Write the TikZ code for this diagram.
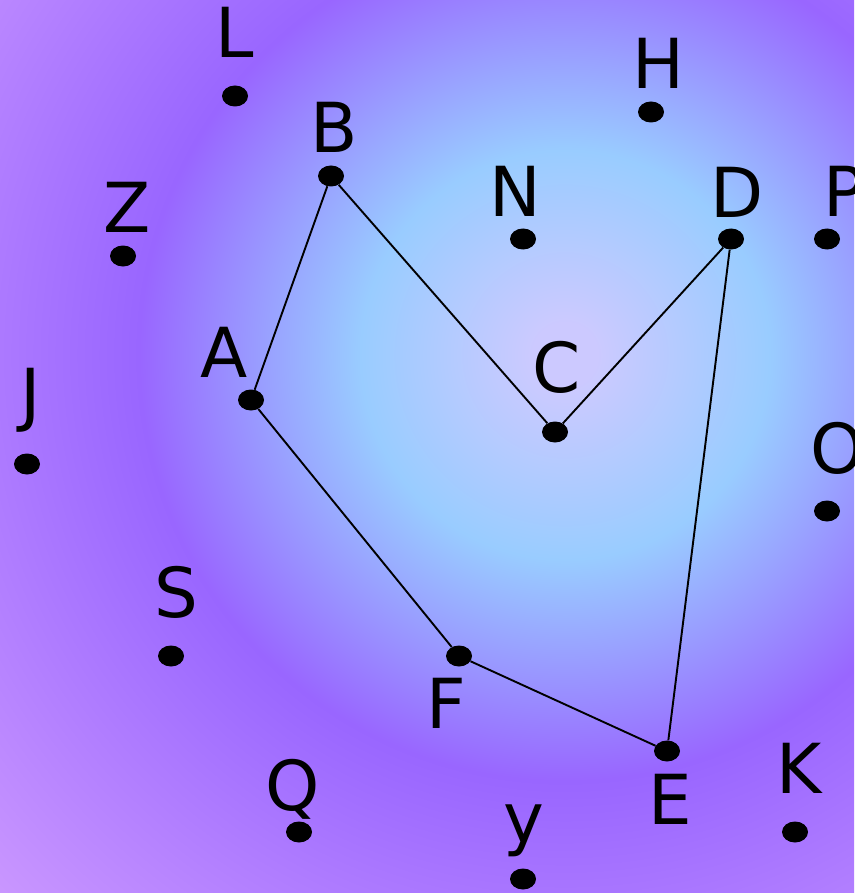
\documentclass[tikz,border=0pt]{standalone}
\usepackage{fontspec}
\setmainfont{DejaVu Sans}
\usetikzlibrary{shapes.geometric}
\pgfdeclareradialshading{bgshade}{\pgfpoint{0bp}{0bp}}{rgb(0bp)=(0.80,0.79,1); rgb(1bp)=(0.80,0.79,1); rgb(6.4bp)=(0.6,0.8,1); rgb(13.3bp)=(0.6,0.4,1); rgb(25bp)=(0.8,0.6,1); rgb(50bp)=(0.8,0.6,1)}
\begin{document}
\begin{tikzpicture}[x=1pt,y=-1pt,
  dot/.style={ellipse, fill=black, minimum width=26pt, minimum height=21pt, inner sep=0pt},
  lbl/.style={inner sep=0pt, anchor=center, font=\fontsize{69}{72}\selectfont},
  edge/.style={draw=black, line width=1.9pt}]
\useasboundingbox (0,0) rectangle (854,893);
\begin{scope}
  \clip (0,0) rectangle (854,893);
  \shade[shading=bgshade] (565,355) circle[radius=800pt];
\end{scope}
% dots
\node[dot] (L) at (235,96) {};
\node[dot] (B) at (331,176) {};
\node[dot] (H) at (651,112) {};
\node[dot] (Z) at (123,256) {};
\node[dot] (N) at (523,239) {};
\node[dot] (D) at (731,239) {};
\node[dot] (P) at (827,239) {};
\node[dot] (A) at (251,400) {};
\node[dot] (J) at (27,464) {};
\node[dot] (C) at (555,432) {};
\node[dot] (O) at (827,511) {};
\node[dot] (S) at (171,656) {};
\node[dot] (F) at (459,656) {};
\node[dot] (E) at (667,751) {};
\node[dot] (K) at (795,832) {};
\node[dot] (Q) at (299,832) {};
\node[dot] (Y) at (523,879) {};
% labels
\node[lbl] (lL) at (235,32) {L};
\node[lbl] (lB) at (334,127) {B};
\node[lbl] (lH) at (658,63) {H};
\node[lbl] (lZ) at (127,207) {Z};
\node[lbl] (lN) at (515,191) {N};
\node[lbl] (lD) at (737,192) {D};
\node[lbl] (lP) at (844,191) {P};
\node[lbl] (lA) at (224,352) {A};
\node[lbl] (lJ) at (31,400) {J};
\node[lbl] (lC) at (557,367) {C};
\node[lbl] (lO) at (838,448) {O};
\node[lbl] (lS) at (176,592) {S};
\node[lbl] (lF) at (446,703) {F};
\node[lbl] (lE) at (670,799) {E};
\node[lbl] (lK) at (799,768) {K};
\node[lbl] (lQ) at (293,789) {Q};
\node[lbl] (lY) at (524,831) {y};
% edges
\draw[edge] (B) -- (A);
\draw[edge] (A) -- (F);
\draw[edge] (F) -- (E);
\draw[edge] (E) -- (D);
\draw[edge] (D) -- (C);
\draw[edge] (C) -- (B);
\end{tikzpicture}
\end{document}
